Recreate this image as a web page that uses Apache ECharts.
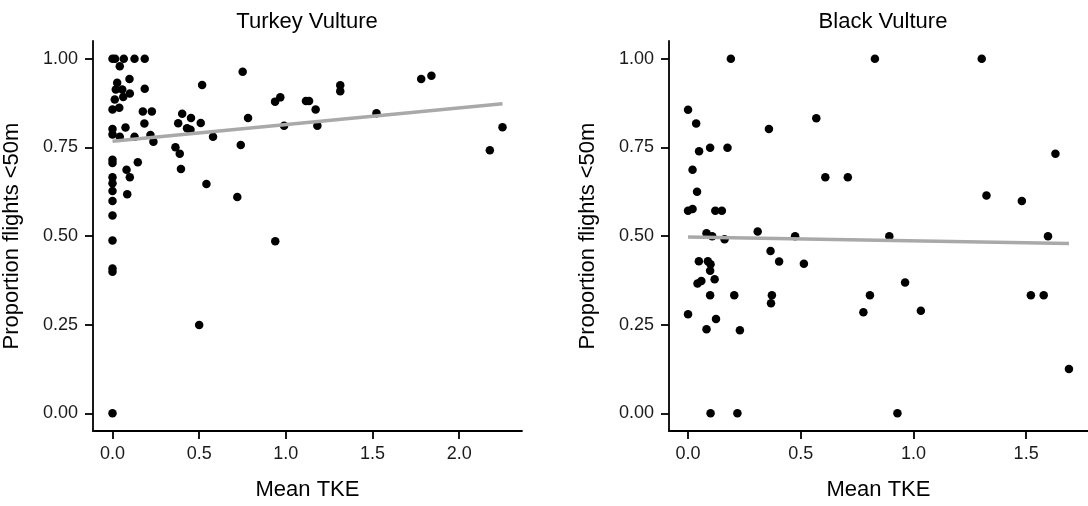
<!DOCTYPE html>
<html>
<head>
<meta charset="utf-8">
<script src="https://cdn.jsdelivr.net/npm/echarts@6/dist/echarts.min.js"></script>
<style>
  html, body { margin: 0; padding: 0; background: #ffffff; }
  #main { width: 1088px; height: 506px; }
</style>
</head>
<body>
<div id="main"></div>
<script>
// Turkey Vulture: mean TKE vs proportion of flights below 50 m
let tvTke = [0.000, 0.015, 0.065, 0.127, 0.186, 0.042, 0.751, 0.098, 0.027, 0.517,
    0.019, 0.056, 0.186, 0.100, 0.062, 0.013, 0.039, 0.000, 0.175, 0.227,
    0.402, 0.453, 0.782, 0.184, 0.379, 0.509, 0.000, 0.075, 0.430, 0.450,
    0.000, 0.042, 0.127, 0.219, 0.580, 0.236, 0.740, 0.363, 0.388, 0.000,
    0.000, 0.146, 0.081, 0.395, 0.100, 0.000, 0.000, 0.542, 0.000, 0.085,
    0.720, 0.000, 0.000, 0.000, 0.000, 0.000, 0.500, 0.000, 0.938, 0.968,
    1.116, 1.134, 1.172, 1.314, 1.314, 1.523, 1.781, 1.840, 0.990, 1.182,
    2.250, 2.177, 0.939];
let tvProp = [1.000, 1.000, 1.000, 1.000, 1.000, 0.979, 0.963, 0.943, 0.932, 0.926,
    0.913, 0.913, 0.915, 0.902, 0.892, 0.885, 0.862, 0.857, 0.851, 0.851,
    0.845, 0.833, 0.833, 0.817, 0.818, 0.819, 0.802, 0.806, 0.804, 0.800,
    0.786, 0.780, 0.780, 0.785, 0.780, 0.766, 0.757, 0.750, 0.732, 0.715,
    0.706, 0.708, 0.687, 0.689, 0.666, 0.666, 0.649, 0.647, 0.627, 0.618,
    0.610, 0.599, 0.558, 0.487, 0.408, 0.399, 0.249, 0.000, 0.879, 0.891,
    0.881, 0.881, 0.857, 0.925, 0.908, 0.846, 0.943, 0.952, 0.811, 0.811,
    0.807, 0.742, 0.485];
let tvFitX = [0.0, 2.25];
let tvFitY = [0.767, 0.873];

// Black Vulture
let bvTke = [0.190, 0.829, 1.303, 0.000, 0.036, 0.569, 0.359, 0.049, 0.098, 0.175,
    1.630, 0.020, 0.609, 0.709, 0.040, 1.324, 1.481, 0.000, 0.020, 0.121,
    0.150, 0.082, 0.107, 0.162, 0.309, 0.475, 0.893, 1.597, 0.366, 0.404,
    0.514, 0.048, 0.088, 0.100, 0.098, 0.118, 0.042, 0.059, 0.963, 0.098,
    0.205, 0.372, 0.807, 1.521, 1.578, 0.368, 0.778, 1.033, 0.000, 0.124,
    0.082, 0.230, 1.690, 0.100, 0.219, 0.929];
let bvProp = [1.000, 1.000, 1.000, 0.856, 0.817, 0.832, 0.802, 0.739, 0.749, 0.749,
    0.732, 0.687, 0.666, 0.666, 0.625, 0.614, 0.599, 0.571, 0.576, 0.571,
    0.571, 0.508, 0.499, 0.491, 0.513, 0.499, 0.499, 0.499, 0.458, 0.428,
    0.422, 0.429, 0.429, 0.420, 0.402, 0.378, 0.366, 0.373, 0.369, 0.333,
    0.333, 0.333, 0.333, 0.333, 0.333, 0.310, 0.285, 0.289, 0.279, 0.266,
    0.237, 0.234, 0.125, 0.000, 0.000, 0.000];
let bvFitX = [0.0, 1.69];
let bvFitY = [0.497, 0.479];

let tvTicks = [0, 0.5, 1, 1.5, 2];
let bvTicks = [0, 0.5, 1, 1.5];
let propTicks = [0, 0.25, 0.5, 0.75, 1];

let titles = ['Turkey Vulture', 'Black Vulture'];

function pairs(xs, ys) {
    return xs.map(function (x, i) { return [x, ys[i]]; });
}

let fontFam = '"Liberation Sans", Arial, sans-serif';

function makeX(idx, min, max, ticks) {
    return {
        type: 'value',
        gridIndex: idx,
        min: min,
        max: max,
        name: 'Mean TKE',
        nameLocation: 'middle',
        nameGap: 48,
        nameTextStyle: { color: '#000', fontSize: 22, fontFamily: fontFam },
        splitLine: { show: false },
        axisLine: { show: true, onZero: false, lineStyle: { color: '#000', width: 1.8 } },
        axisTick: { show: true, length: 8, customValues: ticks, lineStyle: { color: '#000', width: 1.8 } },
        axisLabel: {
            customValues: ticks, margin: 14, color: '#1a1a1a', fontSize: 18, fontFamily: fontFam,
            formatter: function (v) { return v.toFixed(1); }
        }
    };
}

function makeY(idx) {
    return {
        type: 'value',
        gridIndex: idx,
        min: -0.05,
        max: 1.05,
        name: 'Proportion flights <50m',
        nameLocation: 'middle',
        nameGap: 70,
        nameTextStyle: { color: '#000', fontSize: 22, fontFamily: fontFam },
        splitLine: { show: false },
        axisLine: { show: true, onZero: false, lineStyle: { color: '#000', width: 1.8 } },
        axisTick: { show: true, length: 8, customValues: propTicks, lineStyle: { color: '#000', width: 1.8 } },
        axisLabel: {
            customValues: propTicks, margin: 15, color: '#1a1a1a', fontSize: 18, fontFamily: fontFam,
            formatter: function (v) { return v.toFixed(2); }
        }
    };
}

let myChart = echarts.init(document.getElementById('main'));
let option = {
    backgroundColor: '#ffffff',
    animation: false,
    graphic: [
        { type: 'text', x: 307, y: 22, style: { text: titles[0], fill: '#000', fontSize: 22, fontFamily: fontFam, textAlign: 'center', textVerticalAlign: 'middle' } },
        { type: 'text', x: 883, y: 22, style: { text: titles[1], fill: '#000', fontSize: 22, fontFamily: fontFam, textAlign: 'center', textVerticalAlign: 'middle' } }
    ],
    grid: [
        { left: 92, top: 41, width: 430, height: 401 },
        { left: 669, top: 41, width: 430, height: 401 }
    ],
    xAxis: [
        makeX(0, -0.1125, 2.3625, tvTicks),
        makeX(1, -0.0845, 1.7745, bvTicks)
    ],
    yAxis: [makeY(0), makeY(1)],
    series: [
        {
            type: 'scatter', xAxisIndex: 0, yAxisIndex: 0,
            data: pairs(tvTke, tvProp),
            symbolSize: 8.5,
            itemStyle: { color: '#000', opacity: 1 }
        },
        {
            type: 'line', xAxisIndex: 0, yAxisIndex: 0,
            data: pairs(tvFitX, tvFitY),
            showSymbol: false, z: 5,
            lineStyle: { color: '#a9a9a9', width: 3.5 }
        },
        {
            type: 'scatter', xAxisIndex: 1, yAxisIndex: 1,
            data: pairs(bvTke, bvProp),
            symbolSize: 8.5,
            itemStyle: { color: '#000', opacity: 1 }
        },
        {
            type: 'line', xAxisIndex: 1, yAxisIndex: 1,
            data: pairs(bvFitX, bvFitY),
            showSymbol: false, z: 5,
            lineStyle: { color: '#a9a9a9', width: 3.5 }
        }
    ]
};
myChart.setOption(option);
</script>
</body>
</html>
